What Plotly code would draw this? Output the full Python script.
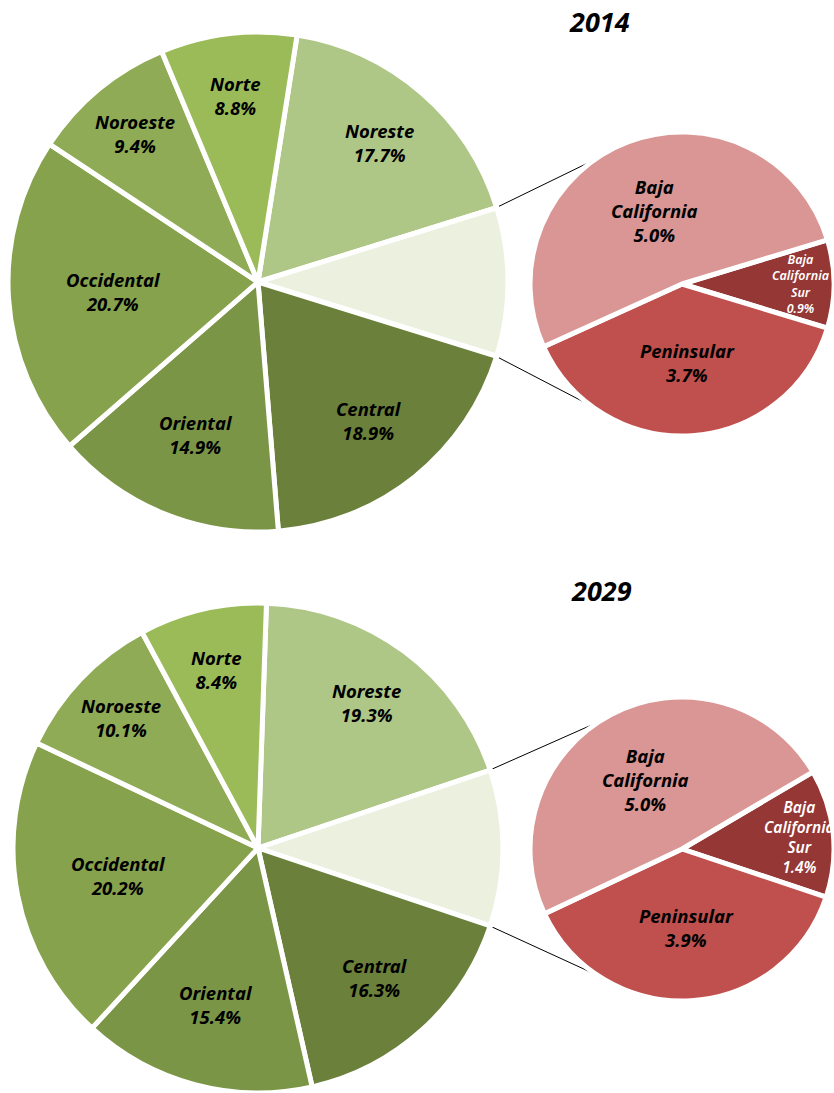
import math
import plotly.graph_objects as go

# Regional shares of the national total (%)
years = ["2014", "2029"]
main_regions = ["Noreste", "Central", "Oriental", "Occidental", "Noroeste", "Norte"]
main_2014 = [17.7, 18.9, 14.9, 20.7, 9.4, 8.8]
main_2029 = [19.3, 16.3, 15.4, 20.2, 10.1, 8.4]

# Baja California peninsula breakdown (drawn in the secondary pie)
pen_regions = ["Baja California Sur", "Peninsular", "Baja California"]
pen_labels = ["Baja<br>California<br>Sur", "Peninsular", "Baja<br>California"]
pen_2014 = [0.9, 3.7, 5.0]
pen_2029 = [1.4, 3.9, 5.0]

# ---- styling ----
W, H = 834, 1093
FONT = "Noto Sans"
main_colors = {
    "Noreste": "#AFC786",
    "Central": "#6A803B",
    "Oriental": "#7B9546",
    "Occidental": "#87A24D",
    "Noroeste": "#8FAB55",
    "Norte": "#9BBB59",
}
group_color = "#EBF0DF"
pen_colors = {
    "Baja California Sur": "#953735",
    "Peninsular": "#C0504D",
    "Baja California": "#D99694",
}
# radial placement of each label, as a fraction of the pie radius
main_label_r = {"Noreste": 0.74, "Central": 0.71, "Oriental": 0.66,
                "Occidental": 0.58, "Noroeste": 0.77, "Norte": 0.75}
pen_label_r = {"Baja California Sur": 0.78, "Peninsular": 0.52, "Baja California": 0.52}
pen_label_color = {"Baja California Sur": "white", "Peninsular": "black", "Baja California": "black"}

# pixel geometry of each year's pair of pies
layout_px = {
    "2014": dict(main=(258, 282, 250), sec=(682, 284, 152), title=(599, 22), bcs_center=90, bcs_size=12.5),
    "2029": dict(main=(258, 848, 245), sec=(682, 849, 152), title=(601, 590), bcs_center=84, bcs_size=15.5),
}


def polar(cx, cy, r, ang):
    a = math.radians(ang)
    return cx + r * math.sin(a), cy - r * math.cos(a)


def to_paper(x, y):
    return x / W, 1 - y / H


def domain(cx, cy, r):
    x0, x1 = max(0, (cx - r) / W), min(1, (cx + r) / W)
    y0, y1 = max(0, 1 - (cy + r) / H), min(1, 1 - (cy - r) / H)
    return dict(x=[x0, x1], y=[y0, y1])


def tangent(px, py, cx, cy, r, upper):
    dx, dy = px - cx, py - cy
    L = math.hypot(dx, dy)
    phi = math.atan2(dy, dx)
    alpha = math.acos(r / L)
    pts = [(cx + r * math.cos(phi + s * alpha), cy + r * math.sin(phi + s * alpha)) for s in (1, -1)]
    return min(pts, key=lambda p: p[1]) if upper else max(pts, key=lambda p: p[1])


fig = go.Figure()
annotations = []
shapes = []
label_font = dict(family=FONT, size=18.5, color="black", weight="bold", style="italic")

for year, main_vals, pen_vals in [("2014", main_2014, pen_2014), ("2029", main_2029, pen_2029)]:
    g = layout_px[year]
    group_total = round(sum(pen_vals), 1)

    # main pie: Noreste, peninsula group, then the rest clockwise
    names = [main_regions[0], "Península"] + main_regions[1:]
    vals = [main_vals[0], group_total] + main_vals[1:]
    colors = [main_colors[main_regions[0]], group_color] + [main_colors[n] for n in main_regions[1:]]
    total = sum(vals)
    rot = 90 - (vals[0] + vals[1] / 2) * 360 / total

    mcx, mcy, mr = g["main"]
    fig.add_trace(go.Pie(
        values=vals, labels=names, sort=False, direction="clockwise", rotation=rot,
        marker=dict(colors=colors, line=dict(color="white", width=5)),
        textinfo="none", hoverinfo="label+value", showlegend=False,
        domain=domain(mcx, mcy, mr),
    ))

    # labels on the main pie
    start = rot
    edges = []
    for n, v in zip(names, vals):
        span = v * 360 / total
        if n == "Península":
            edges = [start, start + span]
        else:
            x, y = polar(mcx, mcy, mr * main_label_r[n], start + span / 2)
            px_, py_ = to_paper(x, y)
            annotations.append(dict(x=px_, y=py_, xref="paper", yref="paper",
                                    text=f"{n}<br>{v:.1f}%", showarrow=False,
                                    xanchor="center", yanchor="middle",
                                    font=label_font))
        start += span

    # secondary pie with the peninsula breakdown
    scx, scy, sr = g["sec"]
    pen_total = sum(pen_vals)
    srot = g["bcs_center"] - pen_vals[0] * 360 / pen_total / 2
    fig.add_trace(go.Pie(
        values=pen_vals, labels=pen_regions, sort=False, direction="clockwise", rotation=srot,
        marker=dict(colors=[pen_colors[n] for n in pen_regions], line=dict(color="white", width=5)),
        textinfo="none", hoverinfo="label+value", showlegend=False,
        domain=domain(scx, scy, sr),
    ))
    start = srot
    for n, lab, v in zip(pen_regions, pen_labels, pen_vals):
        span = v * 360 / pen_total
        x, y = polar(scx, scy, sr * pen_label_r[n], start + span / 2)
        px_, py_ = to_paper(x, y)
        f = dict(label_font)
        f["color"] = pen_label_color[n]
        if n == "Baja California Sur":
            f["size"] = g["bcs_size"]
            f["weight"] = 600
        annotations.append(dict(x=px_, y=py_, xref="paper", yref="paper",
                                text=f"{lab}<br>{v:.1f}%", showarrow=False,
                                xanchor="center", yanchor="middle", font=f))
        start += span

    # connector lines from the group slice edges, tangent to the secondary pie
    for ang, upper in zip(edges, (True, False)):
        x0, y0 = polar(mcx, mcy, mr - 2, ang)
        x1, y1 = tangent(x0, y0, scx, scy, sr - 2, upper)
        a0, b0 = to_paper(x0, y0)
        a1, b1 = to_paper(x1, y1)
        shapes.append(dict(type="line", xref="paper", yref="paper", x0=a0, y0=b0, x1=a1, y1=b1,
                           line=dict(color="black", width=1), layer="below"))

    tx, ty = to_paper(*g["title"])
    annotations.append(dict(x=tx, y=ty, xref="paper", yref="paper", text=year, showarrow=False,
                            xanchor="center", yanchor="middle",
                            font=dict(family=FONT, size=27, color="black", weight="bold", style="italic")))

fig.update_layout(
    width=W, height=H, margin=dict(l=0, r=0, t=0, b=0),
    paper_bgcolor="white", plot_bgcolor="white",
    annotations=annotations, shapes=shapes, showlegend=False,
)

fig.write_html("out.html")
